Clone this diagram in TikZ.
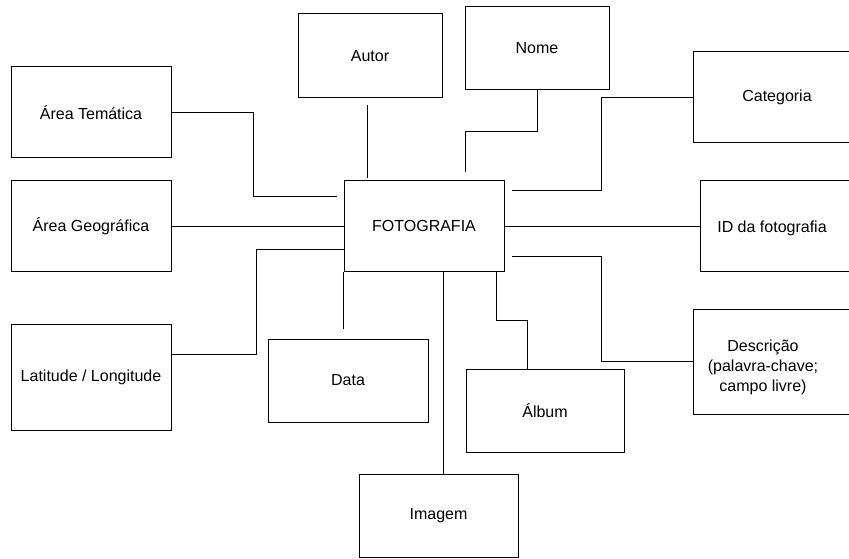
\documentclass[tikz,border=0pt]{standalone}
\usepackage{fontspec}
\setmainfont{Liberation Sans}
\usetikzlibrary{calc}
\tikzset{box/.style={draw, inner sep=2pt}}
\begin{document}
\begin{tikzpicture}[x=1pt, y=-1pt, line width=1pt, font=\fontsize{16}{20}\selectfont]
    \useasboundingbox (0,0) rectangle (849,559);
    \clip (0,0) rectangle (849,559);
    \node[box, minimum width=144, minimum height=84] (aut) at (370,56) {Autor};
    \node[box, minimum width=144, minimum height=83] (nom) at (537,48.5) {Nome};
    \node[box, minimum width=168, minimum height=91] (cat) at (777,97.5) {Categoria};
    \node[box, minimum width=160, minimum height=91] (tem) at (91,112.5) {Área Temática};
    \node[box, minimum width=160, minimum height=90] (geo) at (91,226) {Área Geográfica};
    \node[box, minimum width=160, minimum height=90] (foto) at (424,226) {FOTOGRAFIA};
    \node[box, minimum width=180, minimum height=91,
          label={[xshift=-18pt, yshift=-2pt]center:ID da fotografia}] (idf) at (790,226) {};
    \node[box, minimum width=160, minimum height=106] (lat) at (91,377) {Latitude / Longitude};
    \node[box, minimum width=160, minimum height=83] (dat) at (348,380.5) {Data};
    \node[box, minimum width=158, minimum height=83] (alb) at (545,410.5) {Álbum};
    \node[box, minimum width=180, minimum height=105,
          label={[align=center, xshift=-20pt, yshift=-6pt]center:{Descrição\\(palavra-chave;\\campo livre)}}] (des) at (783,361.5) {};
    \node[box, minimum width=159, minimum height=83] (img) at (438.5,515.5) {Imagem};
    \draw ($(aut.south)+(-3,7)$) -- ($(foto.north)+(-57,-2)$);
    \draw (nom.south) -- ++(0,41) -| ($(foto.north)+(41,-8)$);
    \draw (cat.west) -- ++(-91,0) |- ($(foto.east)+(7,-36)$);
    \draw (foto) -- (idf);
    \draw (des.west) -- ++(-91,0) |- ($(foto.east)+(7,30)$);
    \draw ($(foto.south)+(72,0)$) -- ++(0,49) -| ($(alb.north)+(-18,0)$);
    \draw (img.north) ++(4.5,0) -- ($(foto.south)+(19,0)$);
    \draw[shorten >=10pt] (foto.south west) -- (foto.south west |- dat.north);
    \draw ($(foto.west)+(0,23)$) -- ++(-87,0) |- ($(lat.east)+(0,-23)$);
    \draw (geo) -- (foto);
    \draw (tem.east) -- ++(82,0) |- ($(foto.west)+(-7,-30)$);
  \end{tikzpicture}
\end{document}
